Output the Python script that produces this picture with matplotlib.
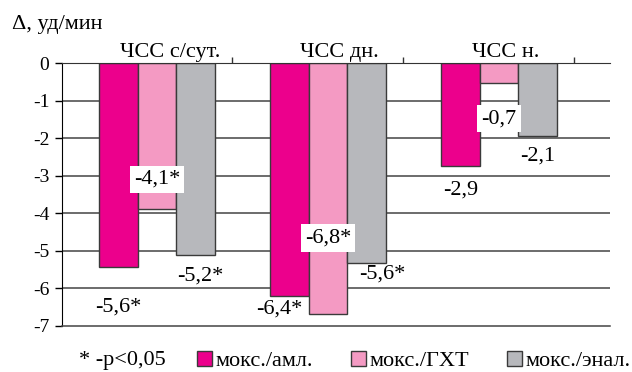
import numpy as np
import matplotlib
matplotlib.use("Agg")
import matplotlib.pyplot as plt
from matplotlib.patches import Patch

# values
categories = ["ЧСС с/сут.", "ЧСС дн.", "ЧСС н."]
series = ["мокс./амл.", "мокс./ГХТ", "мокс./энал."]
bar_amlo = [-5.44, -6.20, -2.74]
bar_ght = [-3.89, -6.67, -0.52]
bar_enal = [-5.10, -5.33, -1.94]
lab_amlo = ["-5,6*", "-6,4*", "-2,9"]
lab_ght = ["-4,1*", "-6,8*", "-0,7"]
lab_enal = ["-5,2*", "-5,6*", "-2,1"]
yticks = [0, -1, -2, -3, -4, -5, -6, -7]

colors = ["#EC008C", "#F49AC3", "#B7B8BC"]
edge = "#3a3a3a"

# label placement: (x shift from bar centre, y position)
pos_amlo = [(0.0, -6.5), (-0.061, -6.55), (0.0, -3.38)]
pos_ght = [(0.0, -3.1), (0.0, -4.66), (0.0, -1.48)]
pos_enal = [(0.026, -5.67), (0.091, -5.61), (0.0, -2.47)]
boxed = {(1, 0), (1, 1), (1, 2)}

plt.rcParams["font.family"] = ["Liberation Serif", "DejaVu Serif"]

fig = plt.figure(figsize=(6.32, 3.72), dpi=100)
ax = fig.add_axes([62 / 632, 46 / 372, 548 / 632, 263 / 372])

x = np.arange(len(categories))
w = 0.225
vals = [bar_amlo, bar_ght, bar_enal]
labs = [lab_amlo, lab_ght, lab_enal]
poss = [pos_amlo, pos_ght, pos_enal]

for yv in yticks[1:-1]:
    ax.axhline(yv, color="#444444", lw=1.1, zorder=1)

for i in range(3):
    ax.bar(x + (i - 1) * w, vals[i], width=w, color=colors[i],
           edgecolor=edge, linewidth=1.0, zorder=2)
    for j in range(3):
        dx, ty = poss[i][j]
        kw = {}
        if (i, j) in boxed:
            kw["bbox"] = dict(facecolor="white", edgecolor="none", pad=3)
        ax.text(x[j] + (i - 1) * w + dx, ty, labs[i][j], ha="center",
                va="center", fontsize=16, zorder=5, **kw)

ax.set_ylim(-7, 0)
ax.set_xlim(-0.556, 2.649)
ax.set_yticks(yticks)
ax.set_yticklabels([str(t) for t in yticks], fontsize=14)
ax.tick_params(axis="y", length=5, width=1, pad=4, colors="black")

ax.xaxis.tick_top()
ax.set_xticks(x + 0.439)
ax.set_xticklabels([])
ax.tick_params(axis="x", length=4, width=1, direction="out", colors="#333333")

ax.spines["right"].set_visible(False)
ax.spines["left"].set_color("black")
ax.spines["top"].set_color("#333333")
ax.spines["bottom"].set_color("#444444")
ax.spines["bottom"].set_linewidth(1.1)

cat_x = [0.076, 1.064, 2.041]
for cx, c in zip(cat_x, categories):
    ax.text(cx, 0.29, c, ha="center", va="center", fontsize=16, clip_on=False)

fig.text(12 / 632, 1 - 25 / 372, "Δ, уд/мин", ha="left", va="center", fontsize=16)
fig.text(79 / 632, 1 - 361 / 372, "* -p<0,05", ha="left", va="center", fontsize=16)

handles = [Patch(facecolor=c, edgecolor=edge, linewidth=1.0) for c in colors]
fig.legend(handles, series, loc="center left", bbox_to_anchor=(197 / 632, 1 - 361 / 372),
           ncol=3, frameon=False, fontsize=16, handlelength=0.68, handleheight=0.68,
           handletextpad=0.15, columnspacing=1.7, borderaxespad=0, borderpad=0)

fig.savefig("out.png", dpi=100)
